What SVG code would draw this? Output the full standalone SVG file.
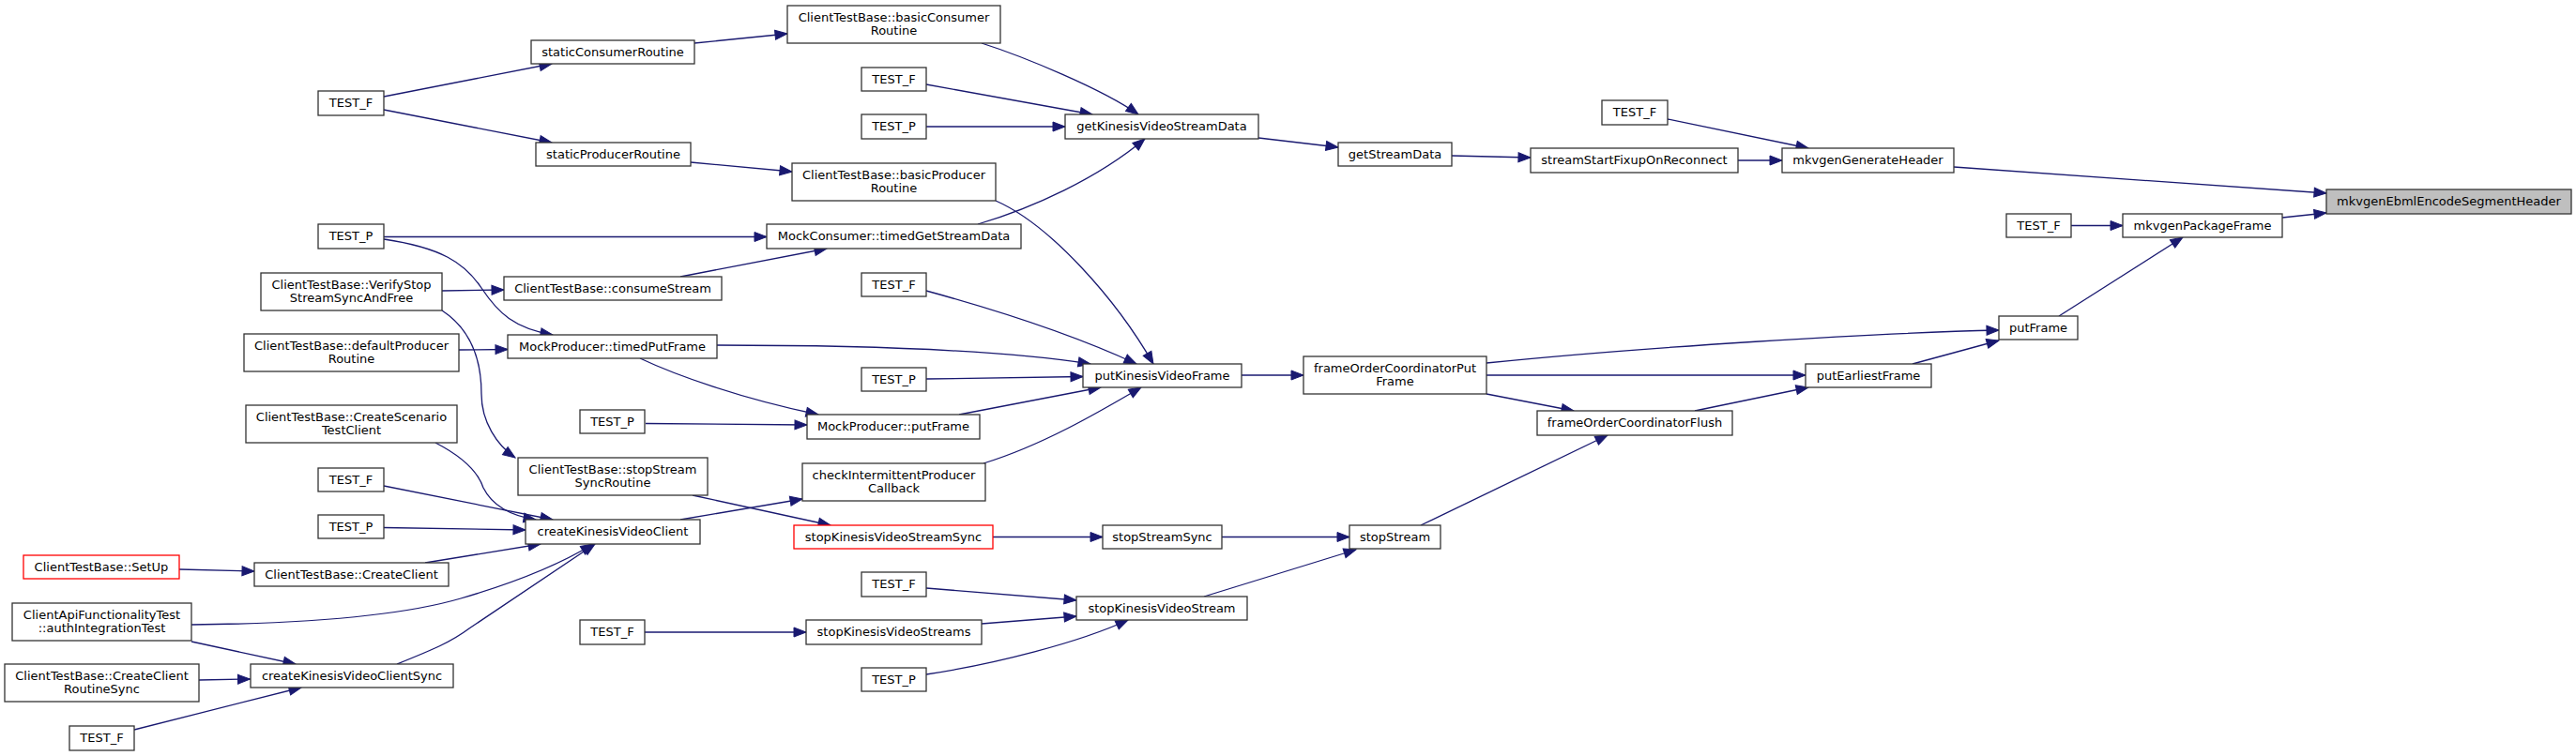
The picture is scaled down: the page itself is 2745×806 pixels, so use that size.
<svg xmlns="http://www.w3.org/2000/svg" width="2745" height="806" viewBox="0 0 2745 806">
<style>
.node rect{fill:#fff;stroke:#333;stroke-width:1.3}
.node.red rect{stroke:#ff0000}
.node.root rect{fill:#bfbfbf}
.node text{font-family:"DejaVu Sans","Liberation Sans",sans-serif;font-size:13px;text-anchor:middle;fill:#000}
#edges path{fill:none;stroke:#191970;stroke-width:1.3;marker-end:url(#arr)}
</style>
<defs>
<marker id="arr" markerUnits="userSpaceOnUse" markerWidth="14" markerHeight="11" refX="13" refY="5" orient="auto" overflow="visible">
<path d="M0,0 L13,5 L0,10 z" fill="#191970" stroke="#191970" stroke-width="1"/>
</marker>
</defs>
<rect x="0" y="0" width="2745" height="806" fill="#fff"/>
<g id="edges">
<path d="M409,103 L588,68"/>
<path d="M409,117 L588,152"/>
<path d="M740,46 L839,36"/>
<path d="M736,173 L844,183"/>
<path d="M1046,46 C1090,60 1175,95 1213,122"/>
<path d="M987,90 L1164,122"/>
<path d="M987,135 L1135,135"/>
<path d="M1042,239 C1100,222 1170,190 1220,148"/>
<path d="M1341,147 L1426,157"/>
<path d="M1547,166 L1631,168"/>
<path d="M1852,171 L1899,171"/>
<path d="M1777,127 L1927,158"/>
<path d="M2082,178 L2479,206"/>
<path d="M2432,232 L2479,227"/>
<path d="M2207,240.5 L2262,240.5"/>
<path d="M2194,337 L2326,253"/>
<path d="M1584,387 C1750,370 2000,355 2130,352"/>
<path d="M2038,388 L2130,363"/>
<path d="M1584,400 L1924,400"/>
<path d="M1584,420 L1677,438"/>
<path d="M1806,438 L1927,413"/>
<path d="M1514,560 L1713,464"/>
<path d="M1323,400 L1389,400"/>
<path d="M1302,572.5 L1438,572.5"/>
<path d="M1283,636 L1445,586"/>
<path d="M1058,572.5 L1175,572.5"/>
<path d="M987,627 L1147,640"/>
<path d="M1046,665 L1147,657"/>
<path d="M987,719 C1060,708 1150,685 1202,661"/>
<path d="M687,674 L859,674"/>
<path d="M725,554 L855,532"/>
<path d="M738,528 L885,560"/>
<path d="M1048,494 C1110,475 1170,440 1216,413"/>
<path d="M1022,442 L1173,413"/>
<path d="M987,404 L1154,401.5"/>
<path d="M764,368 C900,368 1060,372 1162,388"/>
<path d="M987,310 C1060,330 1140,355 1211,388"/>
<path d="M1061,214 C1120,240 1190,320 1229,388"/>
<path d="M682,382 C720,400 790,425 872,442"/>
<path d="M688,451.5 L860,453"/>
<path d="M409,252.5 L817,252.5"/>
<path d="M409,255 C470,264 495,280 513,307 S548,350 589,357"/>
<path d="M725,295 L881,265"/>
<path d="M471,310 L537,309"/>
<path d="M471,331 C500,350 513,380 513,420 C513,450 530,475 549,488"/>
<path d="M489,373 L541,372.5"/>
<path d="M464,472 C495,488 510,505 515,520 C525,540 545,550 571,554"/>
<path d="M409,518 L589,554"/>
<path d="M409,562.5 L560,565"/>
<path d="M453,600 L576,580"/>
<path d="M191,607 L271,609"/>
<path d="M204,666 Q402,664 491,638 T632,580"/>
<path d="M204,684 L315,708"/>
<path d="M212,725 L266.5,724"/>
<path d="M143,778 L321,733"/>
<path d="M423,708 C460,693 480,685 500,670 L634,580"/>
</g>
<g id="n_root" class="node root"><rect x="2479" y="202" width="261" height="26"/><text x="2609.5" y="219">mkvgenEbmlEncodeSegmentHeader</text></g>
<g id="n_genhdr" class="node"><rect x="1899" y="158" width="183" height="26"/><text x="1990.5" y="175">mkvgenGenerateHeader</text></g>
<g id="n_pkg" class="node"><rect x="2262" y="228" width="170" height="25"/><text x="2347" y="245">mkvgenPackageFrame</text></g>
<g id="n_tf_pkg" class="node"><rect x="2138" y="228" width="69" height="25"/><text x="2172.5" y="245">TEST_F</text></g>
<g id="n_putframe" class="node"><rect x="2130" y="337" width="84" height="25"/><text x="2172" y="354">putFrame</text></g>
<g id="n_tf_hdr" class="node"><rect x="1707" y="107" width="70" height="26"/><text x="1742" y="124">TEST_F</text></g>
<g id="n_ssfix" class="node"><rect x="1631" y="158" width="221" height="26"/><text x="1741.5" y="175">streamStartFixupOnReconnect</text></g>
<g id="n_getsd" class="node"><rect x="1426" y="152" width="121" height="25"/><text x="1486.5" y="169">getStreamData</text></g>
<g id="n_gkvsd" class="node"><rect x="1135" y="122" width="206" height="26"/><text x="1238" y="139">getKinesisVideoStreamData</text></g>
<g id="n_fpf" class="node"><rect x="1389" y="380" width="195" height="40"/><text x="1486.5" y="397">frameOrderCoordinatorPut</text><text x="1486.5" y="411">Frame</text></g>
<g id="n_pef" class="node"><rect x="1924" y="388" width="134" height="25"/><text x="1991" y="405">putEarliestFrame</text></g>
<g id="n_flush" class="node"><rect x="1638" y="438" width="208" height="26"/><text x="1742" y="455">frameOrderCoordinatorFlush</text></g>
<g id="n_stopstream" class="node"><rect x="1438" y="560" width="97" height="25"/><text x="1486.5" y="577">stopStream</text></g>
<g id="n_pkvf" class="node"><rect x="1154" y="388" width="169" height="25"/><text x="1238.5" y="405">putKinesisVideoFrame</text></g>
<g id="n_stopsync" class="node"><rect x="1175" y="560" width="127" height="25"/><text x="1238.5" y="577">stopStreamSync</text></g>
<g id="n_skvs" class="node"><rect x="1147" y="636" width="182" height="25"/><text x="1238" y="653">stopKinesisVideoStream</text></g>
<g id="n_skvss" class="node red"><rect x="846" y="560" width="212" height="25"/><text x="952" y="577">stopKinesisVideoStreamSync</text></g>
<g id="n_skvstreams" class="node"><rect x="859" y="661" width="187" height="26"/><text x="952.5" y="678">stopKinesisVideoStreams</text></g>
<g id="n_tf_skvs" class="node"><rect x="918" y="610" width="69" height="26"/><text x="952.5" y="627">TEST_F</text></g>
<g id="n_tp_skvs" class="node"><rect x="918" y="712" width="69" height="25"/><text x="952.5" y="729">TEST_P</text></g>
<g id="n_tf_skvstreams" class="node"><rect x="618" y="661" width="69" height="26"/><text x="652.5" y="678">TEST_F</text></g>
<g id="n_mpput" class="node"><rect x="860" y="442" width="184" height="26"/><text x="952" y="459">MockProducer::putFrame</text></g>
<g id="n_cipc" class="node"><rect x="855" y="494" width="195" height="40"/><text x="952.5" y="511">checkIntermittentProducer</text><text x="952.5" y="525">Callback</text></g>
<g id="n_tp_mpput" class="node"><rect x="618" y="437" width="69" height="25"/><text x="652.5" y="454">TEST_P</text></g>
<g id="n_tp_pkvf" class="node"><rect x="918" y="392" width="69" height="25"/><text x="952.5" y="409">TEST_P</text></g>
<g id="n_tf_pkvf" class="node"><rect x="918" y="291" width="69" height="25"/><text x="952.5" y="308">TEST_F</text></g>
<g id="n_mctgsd" class="node"><rect x="817" y="239" width="271" height="26"/><text x="952.5" y="256">MockConsumer::timedGetStreamData</text></g>
<g id="n_bpr" class="node"><rect x="844" y="174" width="217" height="40"/><text x="952.5" y="191">ClientTestBase::basicProducer</text><text x="952.5" y="205">Routine</text></g>
<g id="n_bcr" class="node"><rect x="839" y="6" width="227" height="40"/><text x="952.5" y="23">ClientTestBase::basicConsumer</text><text x="952.5" y="37">Routine</text></g>
<g id="n_tf_gk" class="node"><rect x="918" y="72" width="69" height="25"/><text x="952.5" y="89">TEST_F</text></g>
<g id="n_tp_gk" class="node"><rect x="918" y="122" width="69" height="26"/><text x="952.5" y="139">TEST_P</text></g>
<g id="n_scr" class="node"><rect x="566" y="43" width="174" height="25"/><text x="653" y="60">staticConsumerRoutine</text></g>
<g id="n_spr" class="node"><rect x="571" y="152" width="165" height="25"/><text x="653.5" y="169">staticProducerRoutine</text></g>
<g id="n_tf_static" class="node"><rect x="339" y="97" width="70" height="26"/><text x="374" y="114">TEST_F</text></g>
<g id="n_tp_left" class="node"><rect x="339" y="239" width="70" height="26"/><text x="374" y="256">TEST_P</text></g>
<g id="n_verify" class="node"><rect x="278" y="291" width="193" height="40"/><text x="374.5" y="308">ClientTestBase::VerifyStop</text><text x="374.5" y="322">StreamSyncAndFree</text></g>
<g id="n_consume" class="node"><rect x="537" y="295" width="232" height="25"/><text x="653" y="312">ClientTestBase::consumeStream</text></g>
<g id="n_defprod" class="node"><rect x="260" y="356" width="229" height="40"/><text x="374.5" y="373">ClientTestBase::defaultProducer</text><text x="374.5" y="387">Routine</text></g>
<g id="n_mptpf" class="node"><rect x="541" y="357" width="223" height="25"/><text x="652.5" y="374">MockProducer::timedPutFrame</text></g>
<g id="n_scen" class="node"><rect x="262" y="432" width="225" height="40"/><text x="374.5" y="449">ClientTestBase::CreateScenario</text><text x="374.5" y="463">TestClient</text></g>
<g id="n_sssr" class="node"><rect x="552" y="488" width="202" height="40"/><text x="653" y="505">ClientTestBase::stopStream</text><text x="653" y="519">SyncRoutine</text></g>
<g id="n_ckvc" class="node"><rect x="560" y="554" width="186" height="26"/><text x="653" y="571">createKinesisVideoClient</text></g>
<g id="n_tf_ckvc" class="node"><rect x="339" y="499" width="70" height="25"/><text x="374" y="516">TEST_F</text></g>
<g id="n_tp_ckvc" class="node"><rect x="339" y="549" width="70" height="25"/><text x="374" y="566">TEST_P</text></g>
<g id="n_setup" class="node red"><rect x="25" y="592" width="166" height="25"/><text x="108" y="609">ClientTestBase::SetUp</text></g>
<g id="n_cc" class="node"><rect x="271" y="600" width="207" height="25"/><text x="374.5" y="617">ClientTestBase::CreateClient</text></g>
<g id="n_auth" class="node"><rect x="13" y="643" width="191" height="40"/><text x="108.5" y="660">ClientApiFunctionalityTest</text><text x="108.5" y="674">::authIntegrationTest</text></g>
<g id="n_ccrs" class="node"><rect x="5" y="708" width="207" height="40"/><text x="108.5" y="725">ClientTestBase::CreateClient</text><text x="108.5" y="739">RoutineSync</text></g>
<g id="n_ckvcs" class="node"><rect x="267" y="708" width="216" height="25"/><text x="375" y="725">createKinesisVideoClientSync</text></g>
<g id="n_tf_bottom" class="node"><rect x="74" y="774" width="69" height="26"/><text x="108.5" y="791">TEST_F</text></g>
</svg>
